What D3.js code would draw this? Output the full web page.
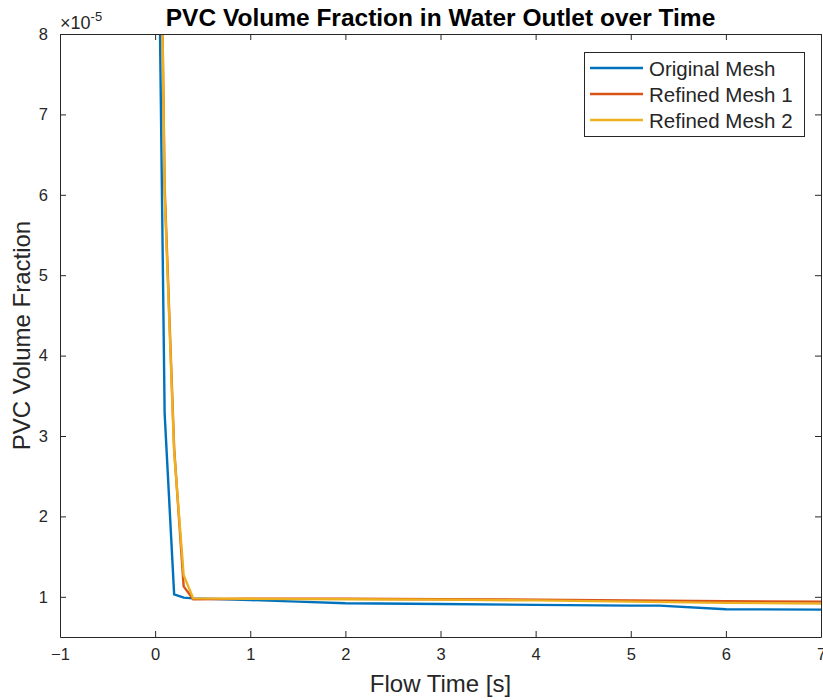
<!DOCTYPE html>
<html>
<head>
<meta charset="utf-8">
<script src="https://cdn.jsdelivr.net/npm/d3@7"></script>
<style>
  html, body { margin: 0; padding: 0; background: #fff; }
  svg { display: block; }
  text { font-family: "Liberation Sans", Arial, Helvetica, sans-serif; fill: #262626; }
</style>
</head>
<body>
<svg id="chart" width="823" height="700"></svg>
<script>
// ---- Data (values in units of 1e-5) ----
const seriesNames = ["Original Mesh", "Refined Mesh 1", "Refined Mesh 2"];
const seriesColors = ["#0072BD", "#D95319", "#EDB120"];

const timeOriginal = [0, 0.1, 0.2, 0.3, 0.4, 1.0, 1.5, 2.0, 3.0, 4.0, 5.0, 5.3, 6.0, 7.0];
const valuesOriginal = [13.0, 3.28, 1.03, 0.99, 0.98, 0.96, 0.94, 0.92, 0.91, 0.90, 0.89, 0.89, 0.845, 0.84];

const timeRefined1 = [0, 0.1, 0.2, 0.3, 0.4, 1.0, 2.0, 3.0, 4.0, 5.0, 6.0, 7.0];
const valuesRefined1 = [15.0, 6.1, 2.85, 1.13, 0.97, 0.975, 0.975, 0.97, 0.965, 0.955, 0.945, 0.94];

const timeRefined2 = [0, 0.1, 0.2, 0.3, 0.4, 1.0, 2.0, 3.0, 4.0, 5.0, 6.0, 7.0];
const valuesRefined2 = [15.0, 6.0, 2.8, 1.27, 0.98, 0.975, 0.97, 0.965, 0.955, 0.94, 0.925, 0.915];

const xTicks = [-1, 0, 1, 2, 3, 4, 5, 6, 7];
const yTicks = [1, 2, 3, 4, 5, 6, 7, 8];

const titleText = "PVC Volume Fraction in Water Outlet over Time";
const xLabelText = "Flow Time [s]";
const yLabelText = "PVC Volume Fraction";

// ---- Layout ----
const svg = d3.select("#chart");
const L = 60, R = 821, T = 34, B = 637;
const axisColor = "#262626";

const x = d3.scaleLinear().domain([-1, 7]).range([L, R]);
const y = d3.scaleLinear().domain([0.5, 8]).range([B, T]);

// clip
svg.append("defs").append("clipPath").attr("id", "clip")
  .append("rect").attr("x", L).attr("y", T).attr("width", R - L).attr("height", B - T);

// lines
const series = [
  {t: timeOriginal, v: valuesOriginal},
  {t: timeRefined1, v: valuesRefined1},
  {t: timeRefined2, v: valuesRefined2}
];
const line = d3.line().x(d => x(d[0])).y(d => y(d[1]));
const gLines = svg.append("g").attr("clip-path", "url(#clip)");
series.forEach((s, i) => {
  const pts = s.t.map((t, k) => [t, s.v[k]]);
  gLines.append("path").datum(pts)
    .attr("d", line)
    .attr("fill", "none")
    .attr("stroke", seriesColors[i])
    .attr("stroke-width", 2.4)
    .attr("stroke-linejoin", "miter");
});

// axes
const tickLen = 6;
const fmt = d3.format("d");
const styleAxis = g => {
  g.select(".domain").attr("stroke", axisColor).attr("stroke-width", 1);
  g.selectAll(".tick line").attr("stroke", axisColor).attr("stroke-width", 1);
  g.selectAll(".tick text").attr("fill", axisColor)
    .style("font-size", "16.5px").style("font-family", '"Liberation Sans", Arial, sans-serif');
};
svg.append("g").attr("transform", `translate(0,${B})`)
  .call(d3.axisBottom(x).tickValues(xTicks).tickFormat(fmt).tickSizeInner(-tickLen).tickSizeOuter(0).tickPadding(11))
  .call(styleAxis);
svg.append("g").attr("transform", `translate(0,${T})`)
  .call(d3.axisTop(x).tickValues(xTicks).tickFormat("").tickSizeInner(-tickLen).tickSizeOuter(0))
  .call(styleAxis);
svg.append("g").attr("transform", `translate(${L},0)`)
  .call(d3.axisLeft(y).tickValues(yTicks).tickFormat(fmt).tickSizeInner(-tickLen).tickSizeOuter(0).tickPadding(12))
  .call(styleAxis);
svg.append("g").attr("transform", `translate(${R},0)`)
  .call(d3.axisRight(y).tickValues(yTicks).tickFormat("").tickSizeInner(-tickLen).tickSizeOuter(0))
  .call(styleAxis);

// exponent label
const expo = svg.append("text").attr("x", L).attr("y", 29).style("font-size", "18px");
expo.append("tspan").text("\u00d710");
expo.append("tspan").attr("dy", -8).style("font-size", "13px").text("-5");

// title
svg.append("text").attr("x", (L + R) / 2).attr("y", 26)
  .attr("text-anchor", "middle")
  .style("font-size", "24.5px").style("font-weight", "bold")
  .style("fill", "#000")
  .text(titleText);

// x label
svg.append("text").attr("x", (L + R) / 2).attr("y", 692)
  .attr("text-anchor", "middle").style("font-size", "24px")
  .text(xLabelText);

// y label
svg.append("text").attr("transform", `translate(30,${(T + B) / 2}) rotate(-90)`)
  .attr("text-anchor", "middle").style("font-size", "24px")
  .text(yLabelText);

// legend
const lg = svg.append("g");
lg.append("rect").attr("x", 584.5).attr("y", 52.5).attr("width", 220).attr("height", 84)
  .attr("fill", "#fff").attr("stroke", axisColor).attr("stroke-width", 1);
const legY = [68, 94, 120];
seriesNames.forEach((name, i) => {
  lg.append("line").attr("x1", 590).attr("x2", 643).attr("y1", legY[i]).attr("y2", legY[i])
    .attr("stroke", seriesColors[i]).attr("stroke-width", 2.4);
  lg.append("text").attr("x", 649).attr("y", legY[i] + 7.5)
    .style("font-size", "20.5px").text(name);
});
</script>
</body>
</html>
